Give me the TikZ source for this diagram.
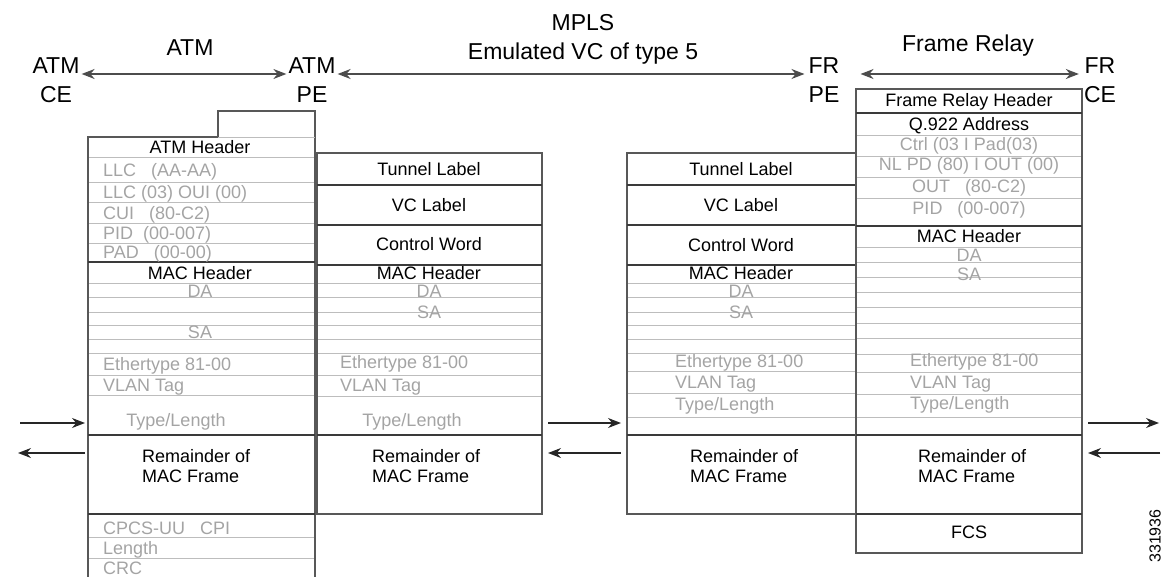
\documentclass[tikz,border=0pt]{standalone}
\usepackage{fontspec}
\setmainfont{Liberation Sans}
\usetikzlibrary{arrows.meta}
\definecolor{gtext}{HTML}{A4A4A4}
\definecolor{gline}{HTML}{BDBDBD}
\definecolor{dline}{HTML}{3A3A3A}
\definecolor{oline}{HTML}{585858}
\begin{document}
\begin{tikzpicture}[x=1pt,y=-1pt,
  lite/.style={draw=gline,line width=0.9pt},
  sep/.style={draw=dline,line width=1.1pt},
  frame/.style={draw=oline,line width=1.1pt},
  cell/.style={font=\fontsize{18}{20}\selectfont,inner sep=0pt,text height=13pt,text depth=0pt},
  blk/.style={cell,text=black},
  gry/.style={cell,text=gtext},
  gryl/.style={gry,anchor=west},
  rem/.style={font=\fontsize{18}{20}\selectfont,align=left,anchor=north west,inner sep=0pt},
  toplbl/.style={font=\fontsize{23}{29}\selectfont,align=center,inner sep=1pt},
  arr/.style={draw=black!85,line width=1.3pt,-{Stealth[length=13pt,width=10pt]}},
  darr/.style={draw=black!70,line width=1.6pt,{Stealth[length=13pt,width=10pt]}-{Stealth[length=13pt,width=10pt]}}
]
\useasboundingbox (0,0) rectangle (1166,577);

% ---------- top labels ----------
\node[toplbl] (atmce) at (56,80) {ATM\\CE};
\node[toplbl] (atmlbl) at (190,48) {ATM};
\node[toplbl] (atmpe) at (312,80) {ATM\\PE};
\node[toplbl] (mpls) at (583,39) {MPLS\\Emulated VC of type 5};
\node[toplbl] (frpe) at (824,80) {FR\\PE};
\node[toplbl] (frlbl) at (968,46) {Frame Relay};
\node[toplbl] (frce) at (1100,80) {FR\\CE};
\draw[darr,shorten <=1pt,shorten >=1pt] ([yshift=6pt]atmce.east) -- ([yshift=6pt]atmpe.west);
\draw[darr,shorten <=1pt,shorten >=3pt] ([yshift=6pt]atmpe.east) -- ([yshift=6pt]frpe.west);
\draw[darr,shorten <=20pt,shorten >=4pt] ([yshift=6pt]frpe.east) -- ([yshift=6pt]frce.west);

% ---------- column 1 : ATM ----------
\draw[frame] (88,577) -- (88,137) -- (218,137) -- (218,111) -- (315,111) -- (315,577);
\draw[lite] (218,137) -- (315,137);
\foreach \y in {157,182,202,223,243,283,297,312,325,339,353,375,395,537,558}
  \draw[lite] (89,\y) -- (314,\y);
\foreach \y in {262,435,514}
  \draw[sep] (88,\y) -- (315,\y);
\node[blk] (c1atm) at (200,147) {ATM Header};
\node[gryl] (c1llc1) at (103,170) {LLC\ \ \ (AA-AA)};
\node[gryl] (c1llc2) at (103,192) {LLC (03) OUI (00)};
\node[gryl] (c1cui) at (103,213) {CUI\ \ \ (80-C2)};
\node[gryl] (c1pid) at (103,233) {PID\ \ (00-007)};
\node[gryl] (c1pad) at (103,252) {PAD\ \ \ (00-00)};
\node[blk] (c1mac) at (200,273) {MAC Header};
\node[gry] (c1da) at (200,291) {DA};
\node[gry] (c1sa) at (200,332) {SA};
\node[gryl] (c1eth) at (103,364) {Ethertype 81-00};
\node[gryl] (c1vlan) at (103,385) {VLAN Tag};
\node[gry] (c1type) at (176,420) {Type/Length};
\node[rem] (c1rem) at (142,449) {Remainder of\\MAC Frame};
\node[gryl] (c1cpcs) at (103,528) {CPCS-UU\ \ \ CPI};
\node[gryl] (c1len) at (103,548) {Length};
\node[gryl] (c1crc) at (103,568) {CRC};

% ---------- column 2 : ATM PE / MPLS ----------
\draw[frame] (317,153) rectangle (542,514);
\foreach \y in {185,225,265,435}
  \draw[sep] (317,\y) -- (542,\y);
\foreach \y in {283,297,312,325,339,353,375,396}
  \draw[lite] (318,\y) -- (541,\y);
\node[blk] (c2tun) at (429,169) {Tunnel Label};
\node[blk] (c2vc) at (429,205) {VC Label};
\node[blk] (c2cw) at (429,244) {Control Word};
\node[blk] (c2mac) at (429,273) {MAC Header};
\node[gry] (c2da) at (429,291) {DA};
\node[gry] (c2sa) at (429,312) {SA};
\node[gryl] (c2eth) at (340,362) {Ethertype 81-00};
\node[gryl] (c2vlan) at (340,385) {VLAN Tag};
\node[gry] (c2type) at (412,420) {Type/Length};
\node[rem] (c2rem) at (372,449) {Remainder of\\MAC Frame};

% ---------- column 3 : FR PE / MPLS ----------
\draw[frame] (627,153) rectangle (856,514);
\foreach \y in {185,225,265,435}
  \draw[sep] (627,\y) -- (856,\y);
\foreach \y in {283,297,312,325,339,353,371,393,417}
  \draw[lite] (628,\y) -- (855,\y);
\node[blk] (c3tun) at (741,169) {Tunnel Label};
\node[blk] (c3vc) at (741,205) {VC Label};
\node[blk] (c3cw) at (741,245) {Control Word};
\node[blk] (c3mac) at (741,273) {MAC Header};
\node[gry] (c3da) at (741,291) {DA};
\node[gry] (c3sa) at (741,312) {SA};
\node[gryl] (c3eth) at (675,361) {Ethertype 81-00};
\node[gryl] (c3vlan) at (675,382) {VLAN Tag};
\node[gryl] (c3type) at (675,404) {Type/Length};
\node[rem] (c3rem) at (690,449) {Remainder of\\MAC Frame};

% ---------- column 4 : Frame Relay ----------
\draw[frame] (856,89) rectangle (1082,553);
\foreach \y in {113,226,435,514}
  \draw[sep] (856,\y) -- (1082,\y);
\foreach \y in {135,156,177,198,247,262,277,292,307,323,338,354,372,394,417}
  \draw[lite] (857,\y) -- (1081,\y);
\node[blk] (c4frh) at (969,100) {Frame Relay Header};
\node[blk] (c4q) at (969,124) {Q.922 Address};
\node[gry] (c4ctrl) at (969,144) {Ctrl (03 I Pad(03)};
\node[gry] (c4nlpd) at (969,164) {NL PD (80) I OUT (00)};
\node[gry] (c4out) at (969,186) {OUT\ \ \ (80-C2)};
\node[gry] (c4pid) at (969,208) {PID\ \ \ (00-007)};
\node[blk] (c4mac) at (969,236) {MAC Header};
\node[gry] (c4da) at (969,255) {DA};
\node[gry] (c4sa) at (969,274) {SA};
\node[gryl] (c4eth) at (910,360) {Ethertype 81-00};
\node[gryl] (c4vlan) at (910,382) {VLAN Tag};
\node[gryl] (c4type) at (910,403) {Type/Length};
\node[rem] (c4rem) at (918,449) {Remainder of\\MAC Frame};
\node[blk] (c4fcs) at (969,532) {FCS};

% ---------- side arrows ----------
\coordinate (l1a) at (20,423);  \coordinate (l1b) at (85,423);
\coordinate (l2a) at (85,453);  \coordinate (l2b) at (18,453);
\coordinate (m1a) at (548,423); \coordinate (m1b) at (621,423);
\coordinate (m2a) at (621,453); \coordinate (m2b) at (548,453);
\coordinate (r1a) at (1088,423);\coordinate (r1b) at (1159,423);
\coordinate (r2a) at (1160,453);\coordinate (r2b) at (1088,453);
\draw[arr] (l1a) -- (l1b);
\draw[arr] (l2a) -- (l2b);
\draw[arr] (m1a) -- (m1b);
\draw[arr] (m2a) -- (m2b);
\draw[arr] (r1a) -- (r1b);
\draw[arr] (r2a) -- (r2b);

% ---------- figure number ----------
\node[font=\fontsize{16}{18}\selectfont,rotate=90,inner sep=0pt] (fignum) at (1155,536) {331936};
\end{tikzpicture}
\end{document}
